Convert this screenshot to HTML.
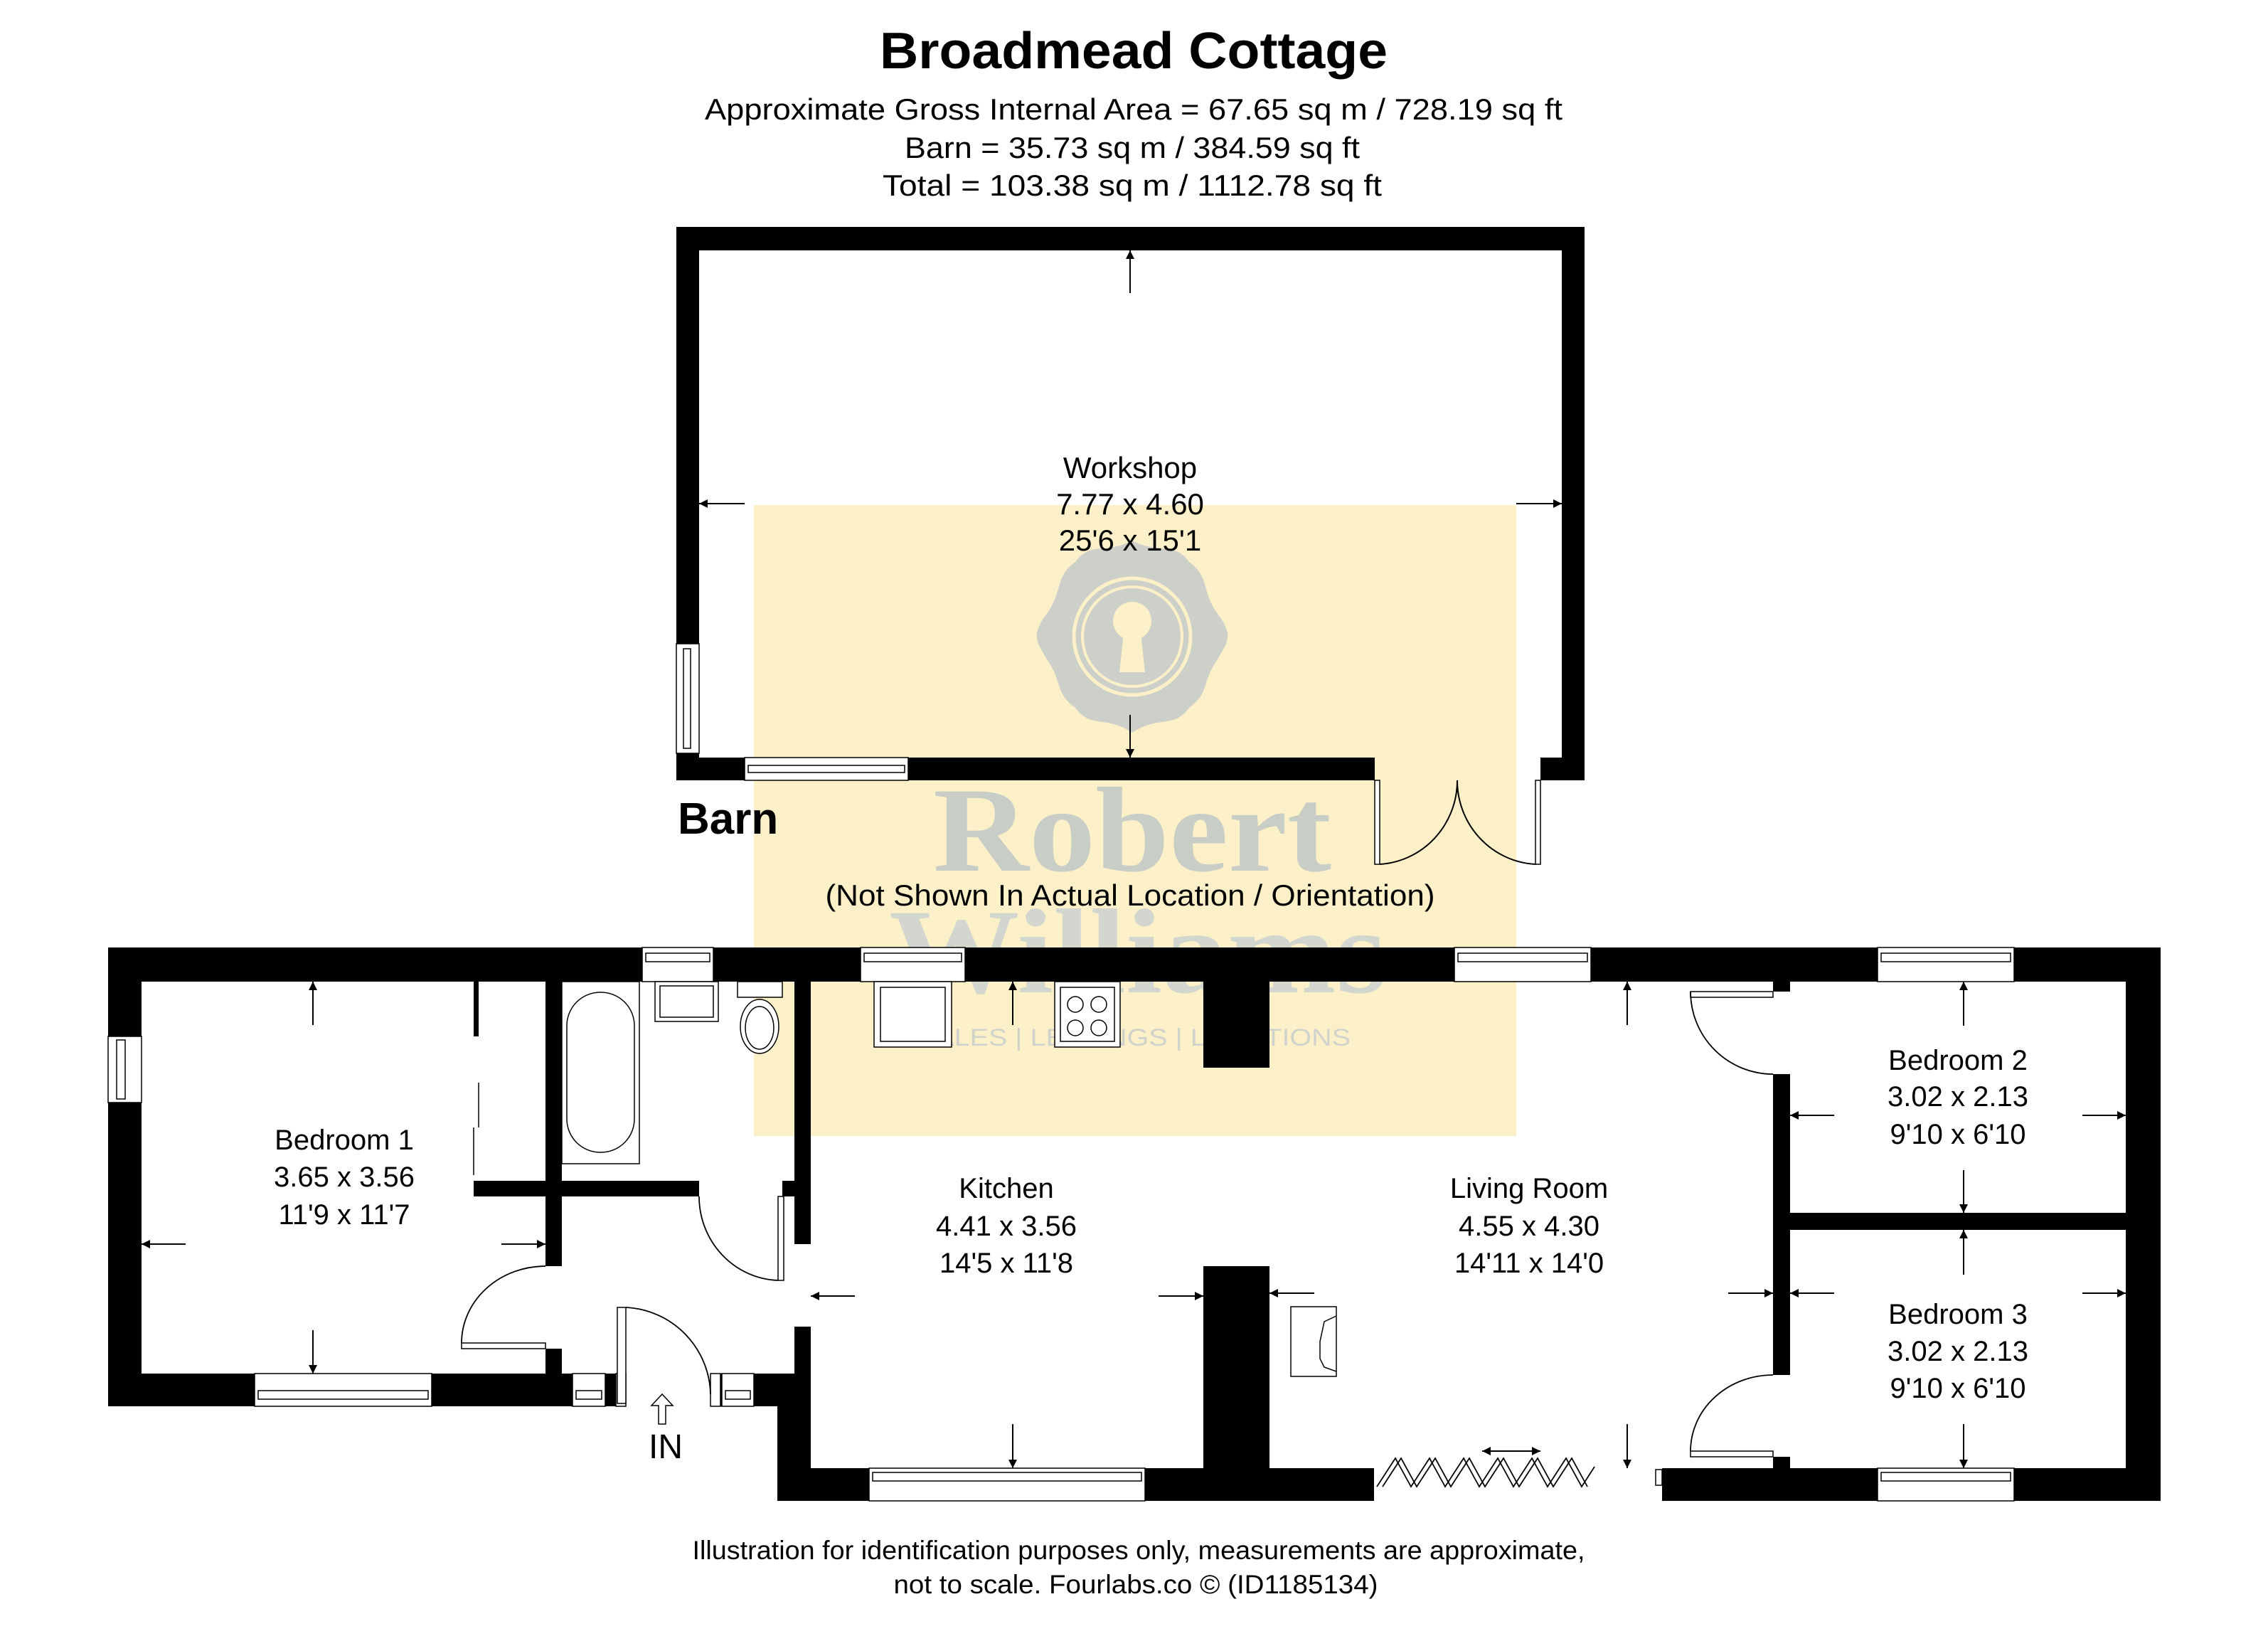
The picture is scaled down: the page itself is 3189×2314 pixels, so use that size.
<!DOCTYPE html>
<html><head><meta charset="utf-8"><style>html,body{margin:0;padding:0;background:#fff}svg{display:block}</style></head>
<body>
<svg xmlns="http://www.w3.org/2000/svg" width="3189" height="2314" viewBox="0 0 3189 2314" font-family="Liberation Sans, Arial, sans-serif">
<defs>
<marker id="ah2" viewBox="0 0 10 10" refX="10" refY="5" markerWidth="28" markerHeight="12" markerUnits="userSpaceOnUse" orient="auto"><path d="M0,0 L10,5 L0,10 z" fill="#000"/></marker>
</defs>
<rect width="3189" height="2314" fill="#fff"/>

<!-- Header -->
<text x="1594" y="96" font-size="72" font-weight="bold" text-anchor="middle" textLength="714" lengthAdjust="spacingAndGlyphs">Broadmead Cottage</text>
<text x="1594" y="168" font-size="42" text-anchor="middle" textLength="1206" lengthAdjust="spacingAndGlyphs">Approximate Gross Internal Area = 67.65 sq m / 728.19 sq ft</text>
<text x="1592" y="222" font-size="42" text-anchor="middle" textLength="640" lengthAdjust="spacingAndGlyphs">Barn = 35.73 sq m / 384.59 sq ft</text>
<text x="1592" y="275" font-size="42" text-anchor="middle" textLength="702" lengthAdjust="spacingAndGlyphs">Total = 103.38 sq m / 1112.78 sq ft</text>

<!-- Watermark -->
<rect x="1060" y="710" width="1072" height="887" fill="#fcf0c8"/>
<g>
<path d="M1592,760 C1630,780 1650,760 1672,790 C1700,810 1690,830 1710,860 C1735,893 1728,900 1710,930 C1690,960 1700,975 1672,995 C1650,1025 1630,1005 1592,1030 C1554,1005 1534,1025 1512,995 C1484,975 1494,960 1474,930 C1456,900 1449,893 1474,860 C1494,830 1484,810 1512,790 C1534,760 1554,780 1592,760 z" fill="#cdd0c8"/>
<circle cx="1592" cy="895" r="82" fill="none" stroke="#fcf0c8" stroke-width="5"/>
<circle cx="1592" cy="895" r="70" fill="none" stroke="#fcf0c8" stroke-width="4"/>
<circle cx="1592" cy="873" r="27" fill="#fcf0c8"/>
<path d="M1580,890 L1604,890 L1610,945 L1574,945 z" fill="#fcf0c8"/>
</g>
<text x="1592" y="1224" font-family="Liberation Serif, serif" font-weight="bold" font-size="170" fill="#c8cec6" text-anchor="middle" textLength="560" lengthAdjust="spacingAndGlyphs">Robert</text>
<text x="1600" y="1395" font-family="Liberation Serif, serif" font-weight="bold" font-size="170" fill="#d3d6ce" text-anchor="middle" textLength="700" lengthAdjust="spacingAndGlyphs">Williams</text>
<text x="1594" y="1470" font-size="34" fill="#d0d2cc" text-anchor="middle" textLength="610" lengthAdjust="spacingAndGlyphs">SALES | LETTINGS | LOCATIONS</text>

<!-- BARN -->
<g fill="#000">
<rect x="951" y="319" width="1277" height="33"/>
<rect x="951" y="319" width="32" height="778"/>
<rect x="2196" y="319" width="32" height="778"/>
<rect x="951" y="1065" width="982" height="32"/>
<rect x="2166" y="1065" width="62" height="32"/>
</g>
<g fill="#fff" stroke="#000" stroke-width="1.5">
<rect x="951" y="905" width="32" height="154"/>
<rect x="961" y="912" width="10" height="140"/>
<rect x="1047" y="1065" width="230" height="32"/>
<rect x="1052" y="1076" width="220" height="10"/>
<rect x="1933" y="1097" width="7" height="118"/>
<rect x="2159" y="1097" width="7" height="118"/>
</g>
<g fill="none" stroke="#000" stroke-width="2">
<path d="M1940,1215 A116,118 0 0 0 2049,1097"/>
<path d="M2159,1215 A116,118 0 0 1 2049,1097"/>
<line x1="1589" y1="412" x2="1589" y2="352" marker-end="url(#ah2)"/>
<line x1="1589" y1="1005" x2="1589" y2="1065" marker-end="url(#ah2)"/>
<line x1="1047" y1="708" x2="983" y2="708" marker-end="url(#ah2)"/>
<line x1="2132" y1="708" x2="2196" y2="708" marker-end="url(#ah2)"/>
</g>
<g font-size="42" text-anchor="middle">
<text x="1589" y="672">Workshop</text>
<text x="1589" y="723">7.77 x 4.60</text>
<text x="1589" y="774">25'6 x 15'1</text>
</g>
<text x="953" y="1172" font-size="62" font-weight="bold">Barn</text>
<text x="1589" y="1273" font-size="42" text-anchor="middle" textLength="857" lengthAdjust="spacingAndGlyphs">(Not Shown In Actual Location / Orientation)</text>

<!-- MAIN HOUSE walls -->
<g fill="#000">
<rect x="152" y="1332" width="2886" height="48"/>
<rect x="152" y="1332" width="47" height="645"/>
<rect x="152" y="1931" width="714" height="46"/>
<rect x="999" y="1931" width="141" height="46"/>
<rect x="1093" y="1931" width="47" height="179"/>
<rect x="1093" y="2064" width="839" height="46"/>
<rect x="1117" y="1380" width="23" height="369"/>
<rect x="1117" y="1865" width="23" height="70"/>
<rect x="767" y="1380" width="23" height="280"/>
<rect x="767" y="1682" width="23" height="98"/>
<rect x="767" y="1896" width="23" height="40"/>
<rect x="666" y="1660" width="317" height="22"/>
<rect x="1100" y="1660" width="40" height="22"/>
<rect x="666" y="1380" width="7" height="77"/>
<rect x="1692" y="1380" width="93" height="121"/>
<rect x="1692" y="1780" width="93" height="290"/>
<rect x="2337" y="2064" width="701" height="46"/>
<rect x="2989" y="1380" width="49" height="730"/>
<rect x="2493" y="1510" width="24" height="423"/>
<rect x="2493" y="1380" width="24" height="14"/>
<rect x="2493" y="2048" width="24" height="16"/>
<rect x="2493" y="1705" width="545" height="24"/>
</g>
<!-- windows -->
<g fill="#fff" stroke="#000" stroke-width="1.5">
<rect x="903" y="1332" width="100" height="48"/><rect x="908" y="1340" width="90" height="12"/>
<rect x="1210" y="1332" width="147" height="48"/><rect x="1215" y="1340" width="137" height="12"/>
<rect x="2045" y="1332" width="192" height="48"/><rect x="2050" y="1340" width="182" height="12"/>
<rect x="2640" y="1332" width="192" height="48"/><rect x="2645" y="1340" width="182" height="12"/>
<rect x="152" y="1457" width="47" height="93"/><rect x="164" y="1462" width="12" height="83"/>
<rect x="358" y="1931" width="249" height="46"/><rect x="363" y="1955" width="239" height="12"/>
<rect x="805" y="1931" width="46" height="46"/><rect x="810" y="1955" width="36" height="12"/>
<rect x="1015" y="1931" width="45" height="46"/><rect x="1020" y="1955" width="35" height="12"/>
<rect x="1222" y="2064" width="388" height="46"/><rect x="1227" y="2070" width="378" height="12"/>
<rect x="2640" y="2064" width="192" height="46"/><rect x="2645" y="2070" width="182" height="12"/>
<rect x="866" y="1931" width="14" height="46"/>
<rect x="999" y="1931" width="14" height="46"/>
<rect x="2328" y="2066" width="9" height="22"/>
</g>
<!-- doors -->
<g fill="#fff" stroke="#000" stroke-width="1.5">
<rect x="868" y="1838" width="12" height="135"/>
<rect x="1094" y="1682" width="8" height="118"/>
<rect x="649" y="1888" width="118" height="8"/>
<rect x="2377" y="1394" width="116" height="8"/>
<rect x="2377" y="2040" width="116" height="8"/>
</g>
<g fill="none" stroke="#000" stroke-width="1.8">
<path d="M880,1838 A125,125 0 0 1 999,1960"/>
<path d="M983,1682 A115,118 0 0 0 1094,1800"/>
<path d="M649,1888 A118,108 0 0 1 767,1780"/>
<path d="M2377,1394 A116,116 0 0 0 2493,1510"/>
<path d="M2377,2040 A116,107 0 0 1 2493,1933"/>
<path d="M1936,2090 L1962,2050 L1984,2090 L2010,2050 L2032,2090 L2058,2050 L2080,2090 L2106,2050 L2128,2090 L2154,2050 L2176,2090 L2202,2050 L2224,2090 L2242,2062"/>
<path d="M1944,2090 L1970,2050 L1992,2090 L2018,2050 L2040,2090 L2066,2050 L2088,2090 L2114,2050 L2136,2090 L2162,2050 L2184,2090 L2210,2050 L2232,2090"/>
</g>
<!-- fixtures -->
<g fill="#fff" stroke="#000" stroke-width="1.5">
<rect x="790" y="1380" width="109" height="256"/>
<rect x="797" y="1395" width="95" height="225" rx="47"/>
<rect x="921" y="1380" width="89" height="56"/>
<rect x="928" y="1386" width="75" height="44"/>
<rect x="1037" y="1380" width="63" height="22"/>
<ellipse cx="1068" cy="1443" rx="27" ry="38"/>
<ellipse cx="1068" cy="1445" rx="20" ry="30"/>
<rect x="1229" y="1380" width="109" height="92"/>
<rect x="1238" y="1388" width="91" height="76"/>
<rect x="1483" y="1380" width="92" height="92"/>
<rect x="1491" y="1388" width="76" height="76"/>
<circle cx="1512" cy="1412" r="11"/><circle cx="1545" cy="1412" r="11"/>
<circle cx="1512" cy="1445" r="11"/><circle cx="1545" cy="1445" r="11"/>
<rect x="1815" y="1837" width="64" height="98"/>
<path d="M1879,1850 L1862,1858 L1856,1886 L1856,1910 L1862,1922 L1879,1928" fill="none"/>
</g>
<g fill="none" stroke="#000" stroke-width="1.5">
<line x1="673" y1="1522" x2="673" y2="1585"/>
<line x1="666" y1="1585" x2="666" y2="1652"/>
<path d="M926,2002 L926,1976 L916,1976 L931,1960 L946,1976 L936,1976 L936,2002 z"/>
</g>
<!-- dimension arrows -->
<g stroke="#000" stroke-width="2" fill="none">
<line x1="440" y1="1441" x2="440" y2="1380" marker-end="url(#ah2)"/>
<line x1="440" y1="1870" x2="440" y2="1931" marker-end="url(#ah2)"/>
<line x1="261" y1="1749" x2="199" y2="1749" marker-end="url(#ah2)"/>
<line x1="705" y1="1749" x2="767" y2="1749" marker-end="url(#ah2)"/>
<line x1="1424" y1="1441" x2="1424" y2="1380" marker-end="url(#ah2)"/>
<line x1="1424" y1="2002" x2="1424" y2="2064" marker-end="url(#ah2)"/>
<line x1="1202" y1="1822" x2="1140" y2="1822" marker-end="url(#ah2)"/>
<line x1="1629" y1="1822" x2="1692" y2="1822" marker-end="url(#ah2)"/>
<line x1="1848" y1="1818" x2="1785" y2="1818" marker-end="url(#ah2)"/>
<line x1="2288" y1="1441" x2="2288" y2="1380" marker-end="url(#ah2)"/>
<line x1="2288" y1="2002" x2="2288" y2="2064" marker-end="url(#ah2)"/>
<line x1="2430" y1="1818" x2="2493" y2="1818" marker-end="url(#ah2)"/>
<line x1="2125" y1="2040" x2="2084" y2="2040" marker-end="url(#ah2)"/>
<line x1="2125" y1="2040" x2="2166" y2="2040" marker-end="url(#ah2)"/>
<line x1="2761" y1="1442" x2="2761" y2="1380" marker-end="url(#ah2)"/>
<line x1="2761" y1="1645" x2="2761" y2="1705" marker-end="url(#ah2)"/>
<line x1="2579" y1="1568" x2="2517" y2="1568" marker-end="url(#ah2)"/>
<line x1="2928" y1="1568" x2="2989" y2="1568" marker-end="url(#ah2)"/>
<line x1="2761" y1="1792" x2="2761" y2="1729" marker-end="url(#ah2)"/>
<line x1="2761" y1="2002" x2="2761" y2="2064" marker-end="url(#ah2)"/>
<line x1="2579" y1="1818" x2="2517" y2="1818" marker-end="url(#ah2)"/>
<line x1="2928" y1="1818" x2="2989" y2="1818" marker-end="url(#ah2)"/>
</g>
<!-- room labels -->
<g font-size="40" text-anchor="middle">
<text x="484" y="1616">Bedroom 1</text><text x="484" y="1668">3.65 x 3.56</text><text x="484" y="1721">11'9 x 11'7</text>
<text x="1415" y="1684">Kitchen</text><text x="1415" y="1737">4.41 x 3.56</text><text x="1415" y="1789">14'5 x 11'8</text>
<text x="2150" y="1684">Living Room</text><text x="2150" y="1737">4.55 x 4.30</text><text x="2150" y="1789">14'11 x 14'0</text>
<text x="2753" y="1504">Bedroom 2</text><text x="2753" y="1555">3.02 x 2.13</text><text x="2753" y="1608">9'10 x 6'10</text>
<text x="2753" y="1861">Bedroom 3</text><text x="2753" y="1913">3.02 x 2.13</text><text x="2753" y="1965">9'10 x 6'10</text>
</g>
<text x="936" y="2050" font-size="48" text-anchor="middle">IN</text>

<!-- footer -->
<text x="1601" y="2192" font-size="37" text-anchor="middle" textLength="1255" lengthAdjust="spacingAndGlyphs">Illustration for identification purposes only, measurements are approximate,</text>
<text x="1597" y="2240" font-size="37" text-anchor="middle" textLength="681" lengthAdjust="spacingAndGlyphs">not to scale.  Fourlabs.co © (ID1185134)</text>
</svg>
</body></html>
